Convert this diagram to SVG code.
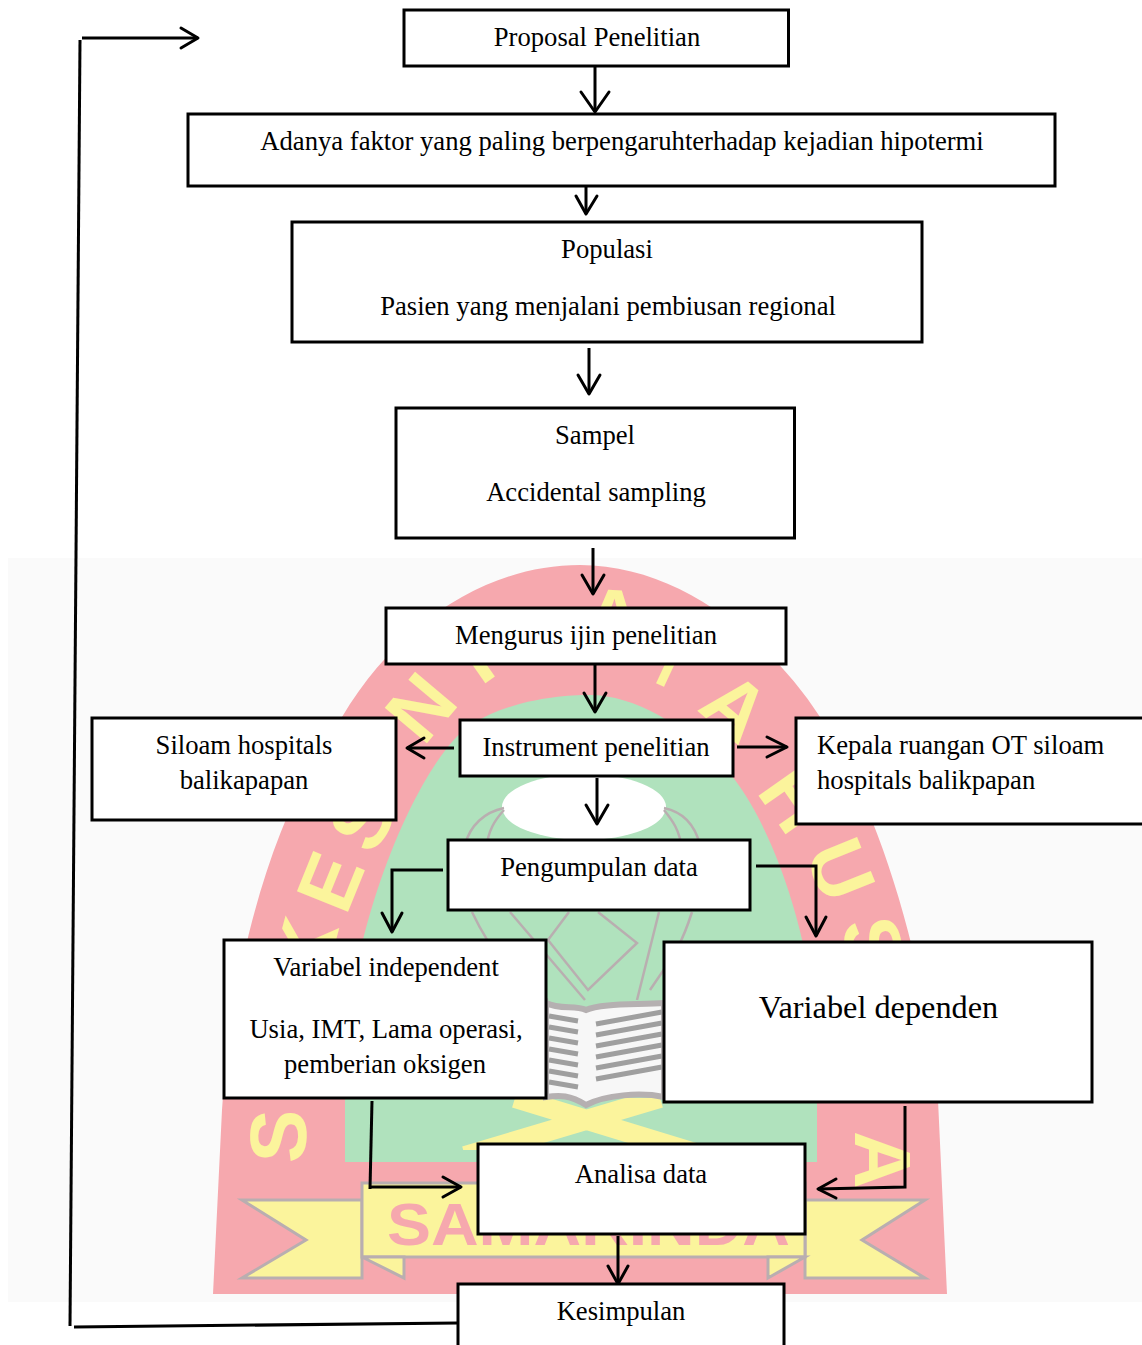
<svg xmlns="http://www.w3.org/2000/svg" width="1142" height="1345" viewBox="0 0 1142 1345">
<defs>
<style>
.box{fill:#fff;stroke:#000;stroke-width:3}
.t{font-family:"Liberation Serif","Times New Roman",serif;font-size:26.650px;fill:#000}
.m{text-anchor:middle}
.c{fill:none;stroke:#000;stroke-width:3;stroke-linecap:butt}
.h{fill:none;stroke:#000;stroke-width:3;stroke-linecap:round;stroke-linejoin:round}
.w{font-family:"Liberation Sans",Arial,sans-serif;font-weight:bold;font-size:80px;fill:#fbf49c;text-anchor:middle}
.g{fill:none;stroke:#b9aeb0;stroke-width:2.5}
</style>
<clipPath id="xclip"><rect x="440" y="1098" width="290" height="52"/></clipPath>
</defs>
<g id="watermark">
<rect x="8" y="558" width="1134" height="744" fill="#fafafa"/>
<path fill="#f6a8ae" d="M213,1294 L222,1110 C232,950 280,800 342,717 C400,620 490,565 580,565 C680,565 770,640 820,717 C880,810 925,960 938,1100 L947,1294 Z"/>
<text class="w" transform="translate(306,1137) rotate(-88)">S</text>
<text class="w" transform="translate(332,955) rotate(-75)">K</text>
<text class="w" transform="translate(356,892) rotate(-68)">E</text>
<text class="w" transform="translate(386,834) rotate(-60)">S</text>
<text class="w" transform="translate(442,725) rotate(-50)">N</text>
<text class="w" transform="translate(490,680) rotate(-35)">I</text>
<text class="w" transform="translate(612,645) rotate(3)">A</text>
<text class="w" transform="translate(660,685) rotate(25)" style="font-size:60px">I</text>
<text class="w" transform="translate(718,728) rotate(40)">A</text>
<text class="w" transform="translate(772,815) rotate(55)">H</text>
<text class="w" transform="translate(815,880) rotate(68)">U</text>
<text class="w" transform="translate(846,950) rotate(78)">S</text>
<text class="w" transform="translate(855,1160) rotate(90)">A</text>
<path fill="#b0e2bd" d="M345,1162 L345,1060 C350,920 420,760 470,725 C510,700 560,695 590,695 C640,695 700,735 735,780 C780,840 817,960 817,1060 L817,1162 Z"/>
<ellipse cx="584" cy="807" rx="82" ry="33" fill="#fff"/>
<path class="g" d="M504,808 C485,812 470,825 465,845 M504,810 C495,820 488,830 486,850 M664,808 C683,812 695,825 700,845 M664,810 C672,820 680,830 682,850"/>
<path class="g" d="M472,912 C490,950 520,990 548,1000 M510,912 L585,1000 M569,912 L548,940 L588,990 L637,943 L598,912 M659,912 L637,1000 M692,912 C680,950 670,960 650,990"/>
<g clip-path="url(#xclip)"><path fill="none" stroke="#fbf49c" stroke-width="20" d="M515,1098 L705,1156 M660,1098 L465,1156"/></g>
<path fill="#f7f7f7" stroke="#b5b0b1" stroke-width="6" d="M546,1003 C560,1010 575,1005 586,1010 C600,1003 640,1005 664,1003 L664,1097 C640,1092 605,1095 586,1105 C570,1095 560,1095 546,1097 Z"/>
<path fill="none" stroke="#9f9f9f" stroke-width="5" d="M549,1016 L578,1021 M549,1027 L578,1032 M549,1038 L578,1043 M549,1049 L578,1054 M549,1060 L578,1065 M549,1071 L578,1076 M549,1082 L578,1087 M596,1024 L662,1012 M596,1035 L662,1023 M596,1046 L662,1034 M596,1057 L662,1045 M596,1068 L662,1056 M596,1079 L662,1067"/>
<path fill="#fbf49c" stroke="#b9aeb0" stroke-width="3" d="M242,1200 L362,1200 L362,1278 L242,1278 L306,1240 Z"/>
<path fill="#fbf49c" stroke="#b9aeb0" stroke-width="3" d="M925,1200 L805,1200 L805,1278 L925,1278 L862,1240 Z"/>
<path fill="#fbf49c" stroke="#b9aeb0" stroke-width="3" d="M362,1183 L805,1183 L805,1257 L362,1257 Z"/>
<path fill="#fbf49c" stroke="#b9aeb0" stroke-width="3" d="M362,1257 L404,1278 L404,1257 Z M805,1257 L768,1278 L768,1257 Z"/>
<text x="387" y="1245" textLength="403" lengthAdjust="spacingAndGlyphs" font-family="'Liberation Sans',Arial,sans-serif" font-weight="bold" font-size="60" fill="#f6a8ae">SAMARINDA</text>
</g>
<g id="connectors">
<path class="c" d="M595,66 V112"/><path class="h" d="M581,92 L595,112 L609,92"/>
<path class="c" d="M586,186 V214"/><path class="h" d="M576,196 L586,214 L597,196"/>
<path class="c" d="M589,348 V394"/><path class="h" d="M578,375 L589,394 L600,375"/>
<path class="c" d="M593,548 V594"/><path class="h" d="M582,575 L593,594 L604,575"/>
<path class="c" d="M595,664 V712"/><path class="h" d="M584,693 L595,712 L606,693"/>
<path class="c" d="M597,778 V824"/><path class="h" d="M586,805 L597,824 L608,805"/>
<path class="c" d="M454,748 H407"/><path class="h" d="M424,738 L407,748 L424,758"/>
<path class="c" d="M737,747 H787"/><path class="h" d="M767,737 L787,747 L767,757"/>
<path class="c" d="M443,870 H392 V932"/><path class="h" d="M382,913 L392,932 L402,913"/>
<path class="c" d="M756,866 H816 V936"/><path class="h" d="M806,917 L816,936 L826,917"/>
<path class="c" d="M372,1101 L370,1189"/><path class="c" d="M370,1187 H461"/><path class="h" d="M443,1177 L461,1187 L443,1197"/>
<path class="c" d="M905,1106 V1187 L818,1189"/><path class="h" d="M836,1179 L818,1189 L836,1198"/>
<path class="c" d="M618,1236 V1284"/><path class="h" d="M608,1266 L618,1284 L628,1266"/>
<path class="c" d="M458,1323 L74,1327"/>
<path class="c" d="M80,40 L70,1326"/>
<path class="c" d="M82,38 H198"/><path class="h" d="M181,28 L198,38 L181,48"/>
</g>
<g id="proposal"><rect class="box" x="404" y="10" width="384.500" height="56"/><text class="t m" x="597" y="46">Proposal Penelitian</text></g>
<g id="faktor"><rect class="box" x="188" y="114" width="867" height="72"/><text class="t m" x="622" y="150">Adanya faktor yang paling berpengaruhterhadap kejadian hipotermi</text></g>
<g id="populasi"><rect class="box" x="292" y="222" width="630" height="120"/><text class="t m" x="607" y="258">Populasi</text><text class="t m" x="608" y="315">Pasien yang menjalani pembiusan regional</text></g>
<g id="sampel"><rect class="box" x="396" y="408" width="398.500" height="130"/><text class="t m" x="595" y="444">Sampel</text><text class="t m" x="596" y="501">Accidental sampling</text></g>
<g id="ijin"><rect class="box" x="386" y="608" width="400" height="56"/><text class="t m" x="586" y="644">Mengurus ijin penelitian</text></g>
<g id="instrument"><rect class="box" x="460" y="720" width="273" height="56"/><text class="t m" x="596" y="756">Instrument penelitian</text></g>
<g id="siloam"><rect class="box" x="92" y="718" width="304" height="102"/><text class="t m" x="244" y="754">Siloam hospitals</text><text class="t m" x="244" y="789">balikapapan</text></g>
<g id="kepala"><rect class="box" x="796" y="718" width="350" height="106"/><text class="t" x="817" y="754">Kepala ruangan OT siloam</text><text class="t" x="817" y="789">hospitals balikpapan</text></g>
<g id="pengumpulan"><rect class="box" x="448" y="840" width="302" height="70"/><text class="t m" x="599" y="876">Pengumpulan data</text></g>
<g id="independen"><rect class="box" x="224" y="940" width="322" height="158"/><text class="t m" x="386" y="976">Variabel independent</text><text class="t m" x="386" y="1038">Usia, IMT, Lama operasi,</text><text class="t m" x="385" y="1073">pemberian oksigen</text></g>
<g id="dependen"><rect class="box" x="664" y="942" width="428" height="160"/><text class="t m" x="878.500" y="1018" style="font-size:32.300px">Variabel dependen</text></g>
<g id="analisa"><rect class="box" x="478" y="1144" width="327" height="90"/><text class="t m" x="641" y="1183">Analisa data</text></g>
<g id="kesimpulan"><rect class="box" x="458" y="1284" width="326" height="70"/><text class="t m" x="621" y="1320">Kesimpulan</text></g>
</svg>
